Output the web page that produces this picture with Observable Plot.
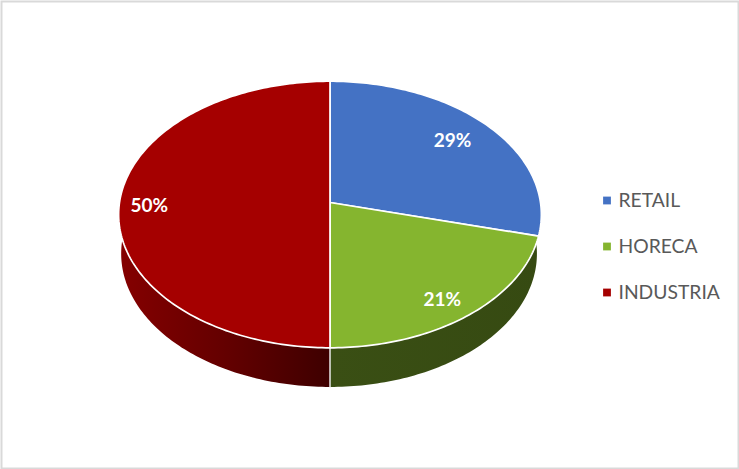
<!DOCTYPE html>
<html>
<head>
<meta charset="utf-8">
<style>html,body{margin:0;padding:0;background:#fff;overflow:hidden}svg{display:block}</style>
<script src="https://cdn.jsdelivr.net/npm/d3@7"></script>
<script src="https://cdn.jsdelivr.net/npm/@observablehq/plot@0.6"></script>
</head>
<body>
<script>
const categories = ["RETAIL", "HORECA", "INDUSTRIA"];
const shares = [29, 21, 50];
const labels = ["29%", "21%", "50%"];
const topColors = ["#4472c4", "#85b52f", "#a50000"];

const W = 739, H = 469, R = 210.5, CX = 329.5, CY = 202;
const tilt = 0.628, persp = -0.0902, depth = 0.186, baseLeft = 0.988, baseRight = 0.979;
const labelNudge = [[-8, 1.5], [0, 6], [-8, 3]];

// Perspective projection of the pie, in radius units; fraction 0 = top, clockwise.
function project(fr, r = 1) {
  const a = fr * 2 * Math.PI, u = r * Math.sin(a), v = -r * Math.cos(a), den = 1 + persp * v;
  return {x: u / den, y: tilt * v / den};
}
const lower = (p) => ({x: p.x * (p.x < 0 ? baseLeft : baseRight), y: p.y + depth});
const arc = (f0, f1) => {
  const n = Math.max(2, Math.ceil((f1 - f0) * 360));
  return d3.range(n + 1).map((i) => f0 + (f1 - f0) * i / n);
};

const total = d3.sum(shares);
let acc = 0;
const slices = categories.map((c, i) => {
  const f0 = acc / total; acc += shares[i];
  return {c, i, f0, f1: acc / total};
});

const faces = slices.flatMap((s) => [
  {id: s.c, x: 0, y: 0},
  ...arc(s.f0, s.f1).map((f) => ({id: s.c, ...project(f)}))
]);
const wall = (f0, f1) => [
  ...arc(f0, f1).map((f) => project(f)),
  ...arc(f0, f1).reverse().map((f) => lower(project(f)))
];
const seam = slices[1].f1;
const greenWall = wall(0.2, seam);
const redWall = wall(seam, 0.8);
const seamLine = [project(seam), lower(project(seam))];

const pct = slices.map((s) => {
  const p = project((s.f0 + s.f1) / 2, 0.82);
  return {label: labels[s.i], x: p.x + labelNudge[s.i][0] / R, y: p.y + labelNudge[s.i][1] / R};
});
const legendRows = categories.map((c, i) => ({
  c, color: topColors[i],
  y: (200 + i * 46 - CY) / R
}));
const lx = (px) => (px - CX) / R;

function gradients() {
  const g = document.createElementNS("http://www.w3.org/2000/svg", "g");
  g.innerHTML = `<defs>
    <linearGradient id="redWallFill" x1="0" x2="1" y1="0" y2="0">
      <stop offset="0" stop-color="#850000"/><stop offset="0.5" stop-color="#640000"/><stop offset="1" stop-color="#3e0000"/>
    </linearGradient>
    <linearGradient id="greenWallFill" x1="0" x2="1" y1="0" y2="0">
      <stop offset="0" stop-color="#3a4f14"/><stop offset="1" stop-color="#364a12"/>
    </linearGradient></defs>`;
  return g;
}

const chart = Plot.plot({
  width: W, height: H, margin: 0,
  style: {background: "#fff"},
  x: {axis: null, domain: [-CX / R, (W - CX) / R], range: [0, W]},
  y: {axis: null, domain: [-CY / R, (H - CY) / R], range: [0, H]},
  marks: [
    gradients,
    Plot.line(greenWall, {x: "x", y: "y", fill: "url(#greenWallFill)", stroke: "none", curve: "linear-closed"}),
    Plot.line(redWall, {x: "x", y: "y", fill: "url(#redWallFill)", stroke: "none", curve: "linear-closed"}),
    Plot.line(seamLine, {x: "x", y: "y", stroke: "#e8e8e8", strokeWidth: 1.5}),
    Plot.line(faces, {x: "x", y: "y", z: "id", fill: (d) => topColors[categories.indexOf(d.id)], stroke: "#fff", strokeWidth: 1.7, strokeLinejoin: "round", curve: "linear-closed"}),
    Plot.text(pct, {x: "x", y: "y", text: "label", fill: "#fff", fontFamily: "Lato", fontWeight: 700, fontSize: 19}),
    Plot.dot(legendRows, {x: () => lx(606.5), y: "y", symbol: "square", r: 4.4, fill: "color", stroke: "none"}),
    Plot.text(legendRows, {x: () => lx(618), y: "y", dy: 0.5, text: "c", textAnchor: "start", fill: "#595959", fontFamily: "Lato", fontSize: 19.3}),
    Plot.frame({stroke: "#d9d9d9", strokeWidth: 2, inset: 1})
  ]
});
document.body.appendChild(chart);
</script>
</body>
</html>
